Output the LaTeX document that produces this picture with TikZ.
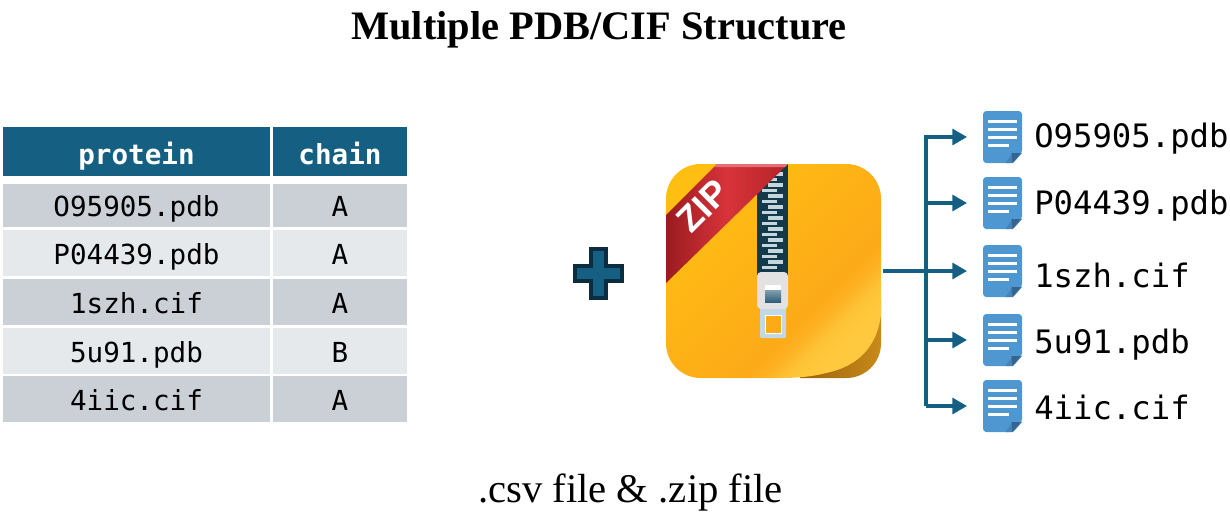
\documentclass[tikz,border=0pt]{standalone}
\usepackage{fontspec}
\setmainfont{Liberation Serif}
\newfontfamily\monof{DejaVu Sans Mono}
\newfontfamily\zipf{Liberation Sans}
\usetikzlibrary{arrows.meta}
\definecolor{headblue}{HTML}{156082}
\definecolor{rowdark}{HTML}{CBCFD6}
\definecolor{rowlight}{HTML}{E6E9EC}
\definecolor{plusdark}{HTML}{0B2D3F}
\definecolor{docblue}{HTML}{4F97D0}
\definecolor{docfold}{HTML}{35648F}
\definecolor{docshade}{HTML}{4684B8}
\definecolor{zipdark}{HTML}{14394A}
\definecolor{zipa}{HTML}{FFC93F}
\definecolor{zipb}{HTML}{FEC436}
\definecolor{zipc}{HTML}{FDB223}
\definecolor{zipd}{HTML}{FCAA18}
\definecolor{zipe}{HTML}{FFBE12}
\definecolor{foldl}{HTML}{C98A18}
\definecolor{foldd}{HTML}{9A620E}
\definecolor{ribl}{HTML}{9A1C20}
\definecolor{ribm}{HTML}{D8333A}
\definecolor{ribr}{HTML}{B32329}
\definecolor{tooth}{HTML}{C6D6DD}
\definecolor{slider}{HTML}{E2E2E2}
\definecolor{pull}{HTML}{C3D8E6}
\definecolor{knob}{HTML}{2F5F78}
\pgfdeclareverticalshading{zipfill}{100bp}{color(0bp)=(zipa); color(25bp)=(zipa); color(30bp)=(zipb); color(34bp)=(zipc); color(37bp)=(zipd); color(75bp)=(zipe); color(100bp)=(zipe)}
\tikzset{
  cellbase/.style={inner sep=0pt,outer sep=0pt,text height=20pt,text depth=3pt,align=center,font=\monof\fontsize{20.7pt}{24pt}\selectfont,text=black},
  headcell/.style={cellbase,fill=headblue,text=white,text height=21.5pt,text depth=2pt,font=\monof\bfseries\fontsize{20.7pt}{24pt}\selectfont},
  darkcell/.style={cellbase,fill=rowdark},
  lightcell/.style={cellbase,fill=rowlight},
  colone/.style={minimum width=200.25pt},
  coltwo/.style={minimum width=100.5pt},
  filelabel/.style={anchor=base west,inner sep=0pt,font=\monof\fontsize{24.2pt}{28pt}\selectfont},
  docnode/.style={inner sep=0pt,outer sep=0pt,minimum width=29.25pt,minimum height=39pt},
  flow/.style={draw=headblue,line width=2.4pt},
  flowarrow/.style={flow,-{Triangle[length=11pt,width=12pt]},shorten >=12pt},
  pics/docicon/.style={code={
    \fill[docblue,rounded corners=2.5pt] (-19.5,-26) -- (19.5,-26) -- (19.5,16) -- (10.5,26) -- (-19.5,26) -- cycle;
    \fill[docshade] (3,26) -- (10,16) -- (19.5,16) -- (10.5,26) -- cycle;
    \fill[docfold] (9,16) -- (18,16) -- (10,26) -- cycle;
    \fill[white] (-14.5,-17.5) rectangle (14,-14);
    \fill[white] (-14.5,-9.5) rectangle (14,-6);
    \fill[white] (-14.5,-1.5) rectangle (14,2);
    \fill[white] (-14.5,6.5) rectangle (6,10);
  }}
}
\begin{document}
\begin{tikzpicture}[x=0.75pt,y=-0.75pt]
\useasboundingbox (0,0) rectangle (1230,515);
\node[font=\bfseries\fontsize{30.3pt}{34pt}\selectfont,inner sep=0pt] (title) at (599,30) {Multiple PDB/CIF Structure};
\node[font=\fontsize{30.5pt}{34pt}\selectfont,inner sep=0pt] (caption) at (630.5,492) {.csv file \& .zip file};

% table
\node[headcell,colone,minimum height=36.75pt] (h1) at (136.5,151.5) {protein};
\node[headcell,coltwo,minimum height=36.75pt] (h2) at (340,151.5) {chain};
\node[darkcell,colone,minimum height=32.25pt] (r1a) at (136.5,205.5) {O95905.pdb};
\node[darkcell,coltwo,minimum height=32.25pt] (r1b) at (340,205.5) {A};
\node[lightcell,colone,minimum height=34.5pt] (r2a) at (136.5,253) {P04439.pdb};
\node[lightcell,coltwo,minimum height=34.5pt] (r2b) at (340,253) {A};
\node[darkcell,colone,minimum height=34.5pt] (r3a) at (136.5,302) {1szh.cif};
\node[darkcell,coltwo,minimum height=34.5pt] (r3b) at (340,302) {A};
\node[lightcell,colone,minimum height=34.5pt] (r4a) at (136.5,351) {5u91.pdb};
\node[lightcell,coltwo,minimum height=34.5pt] (r4b) at (340,351) {B};
\node[darkcell,colone,minimum height=34.5pt] (r5a) at (136.5,399) {4iic.cif};
\node[darkcell,coltwo,minimum height=34.5pt] (r5b) at (340,399) {A};

% plus
\draw[fill=headblue,draw=plusdark,line width=3pt,miter limit=4]
  (591,249) -- (606,249) -- (606,266) -- (622,266) -- (622,281) -- (606,281) -- (606,298) -- (591,298) -- (591,281) -- (575,281) -- (575,266) -- (591,266) -- cycle;

% zip icon
\node[inner sep=0pt,outer sep=0pt,minimum width=161.25pt,minimum height=160.5pt] (zip) at (773.5,271) {};
\begin{scope}
  \clip[rounded corners=26pt] (666,164) rectangle (881,378);
  \shade[left color=foldd,right color=foldl] (800,300) rectangle (881,378);
  \shade[shading=zipfill,shading angle=45]
    (666,164) -- (881,164) -- (881,315) .. controls (877,345) and (860,366) .. (826,373) .. controls (815,376) and (800,378) .. (780,378) -- (666,378) -- cycle;
  % zipper band
  \fill[zipdark] (757,164) rectangle (788,275);
  \foreach \yy in {174,185,196,207,218,229,240,251,262} {
    \fill[tooth] (768,\yy-1.6) rectangle (783,\yy+1.6);
    \fill[tooth] (762,\yy+3.9) rectangle (777,\yy+7.1);
  }
  % ribbon
  \shade[left color=ribl,right color=ribr,middle color=ribm]
    (717,164) -- (788,164) -- (666,283) -- (666,215) -- cycle;
  \fill[ribm!70!white] (717,164) -- (788,164) -- (785,167) -- (714,167) -- cycle;
\end{scope}
\node[rotate=45,text=white,font=\zipf\bfseries\fontsize{27pt}{30pt}\selectfont,inner sep=0pt] (ziptext) at (703,206) {ZIP};
% slider and pull
\fill[pull,rounded corners=1pt] (760,300) rectangle (786,338);
\fill[zipd] (765,315) rectangle (781,333);
\draw[white,line width=0.6pt] (765,315) rectangle (781,333);
\fill[slider,rounded corners=3pt] (757,272) rectangle (788,309);
\fill[white] (765,285) rectangle (781,290);
\shade[top color=knob!60!white,bottom color=knob] (765,290) rectangle (781,302);

% documents
\pic at (1002.5,137) {docicon};
\pic at (1002.5,203) {docicon};
\pic at (1002.5,271) {docicon};
\pic at (1002.5,340) {docicon};
\pic at (1002.5,406) {docicon};
\node[docnode] (doc1) at (1002.5,137) {};
\node[docnode] (doc2) at (1002.5,203) {};
\node[docnode] (doc3) at (1002.5,271) {};
\node[docnode] (doc4) at (1002.5,340) {};
\node[docnode] (doc5) at (1002.5,406) {};
\node[filelabel] (f1) at (1034,147) {O95905.pdb};
\node[filelabel] (f2) at (1034,214) {P04439.pdb};
\node[filelabel] (f3) at (1034,287) {1szh.cif};
\node[filelabel] (f4) at (1034,353) {5u91.pdb};
\node[filelabel] (f5) at (1034,419) {4iic.cif};

% connectors
\coordinate (jct) at (926,271);
\coordinate (top) at (926,137);
\coordinate (mid) at (926,203);
\coordinate (low) at (926,340);
\coordinate (bot) at (926,406);
\draw[flow,line width=3pt] (883,271) -- (jct);
\draw[flowarrow] (bot) -- (top) -- (doc1.west);
\draw[flowarrow] (bot) -- (doc5.west);
\draw[flowarrow] (mid) -- (doc2.west);
\draw[flowarrow] (jct) -- (doc3.west);
\draw[flowarrow] (low) -- (doc4.west);
\end{tikzpicture}
\end{document}
